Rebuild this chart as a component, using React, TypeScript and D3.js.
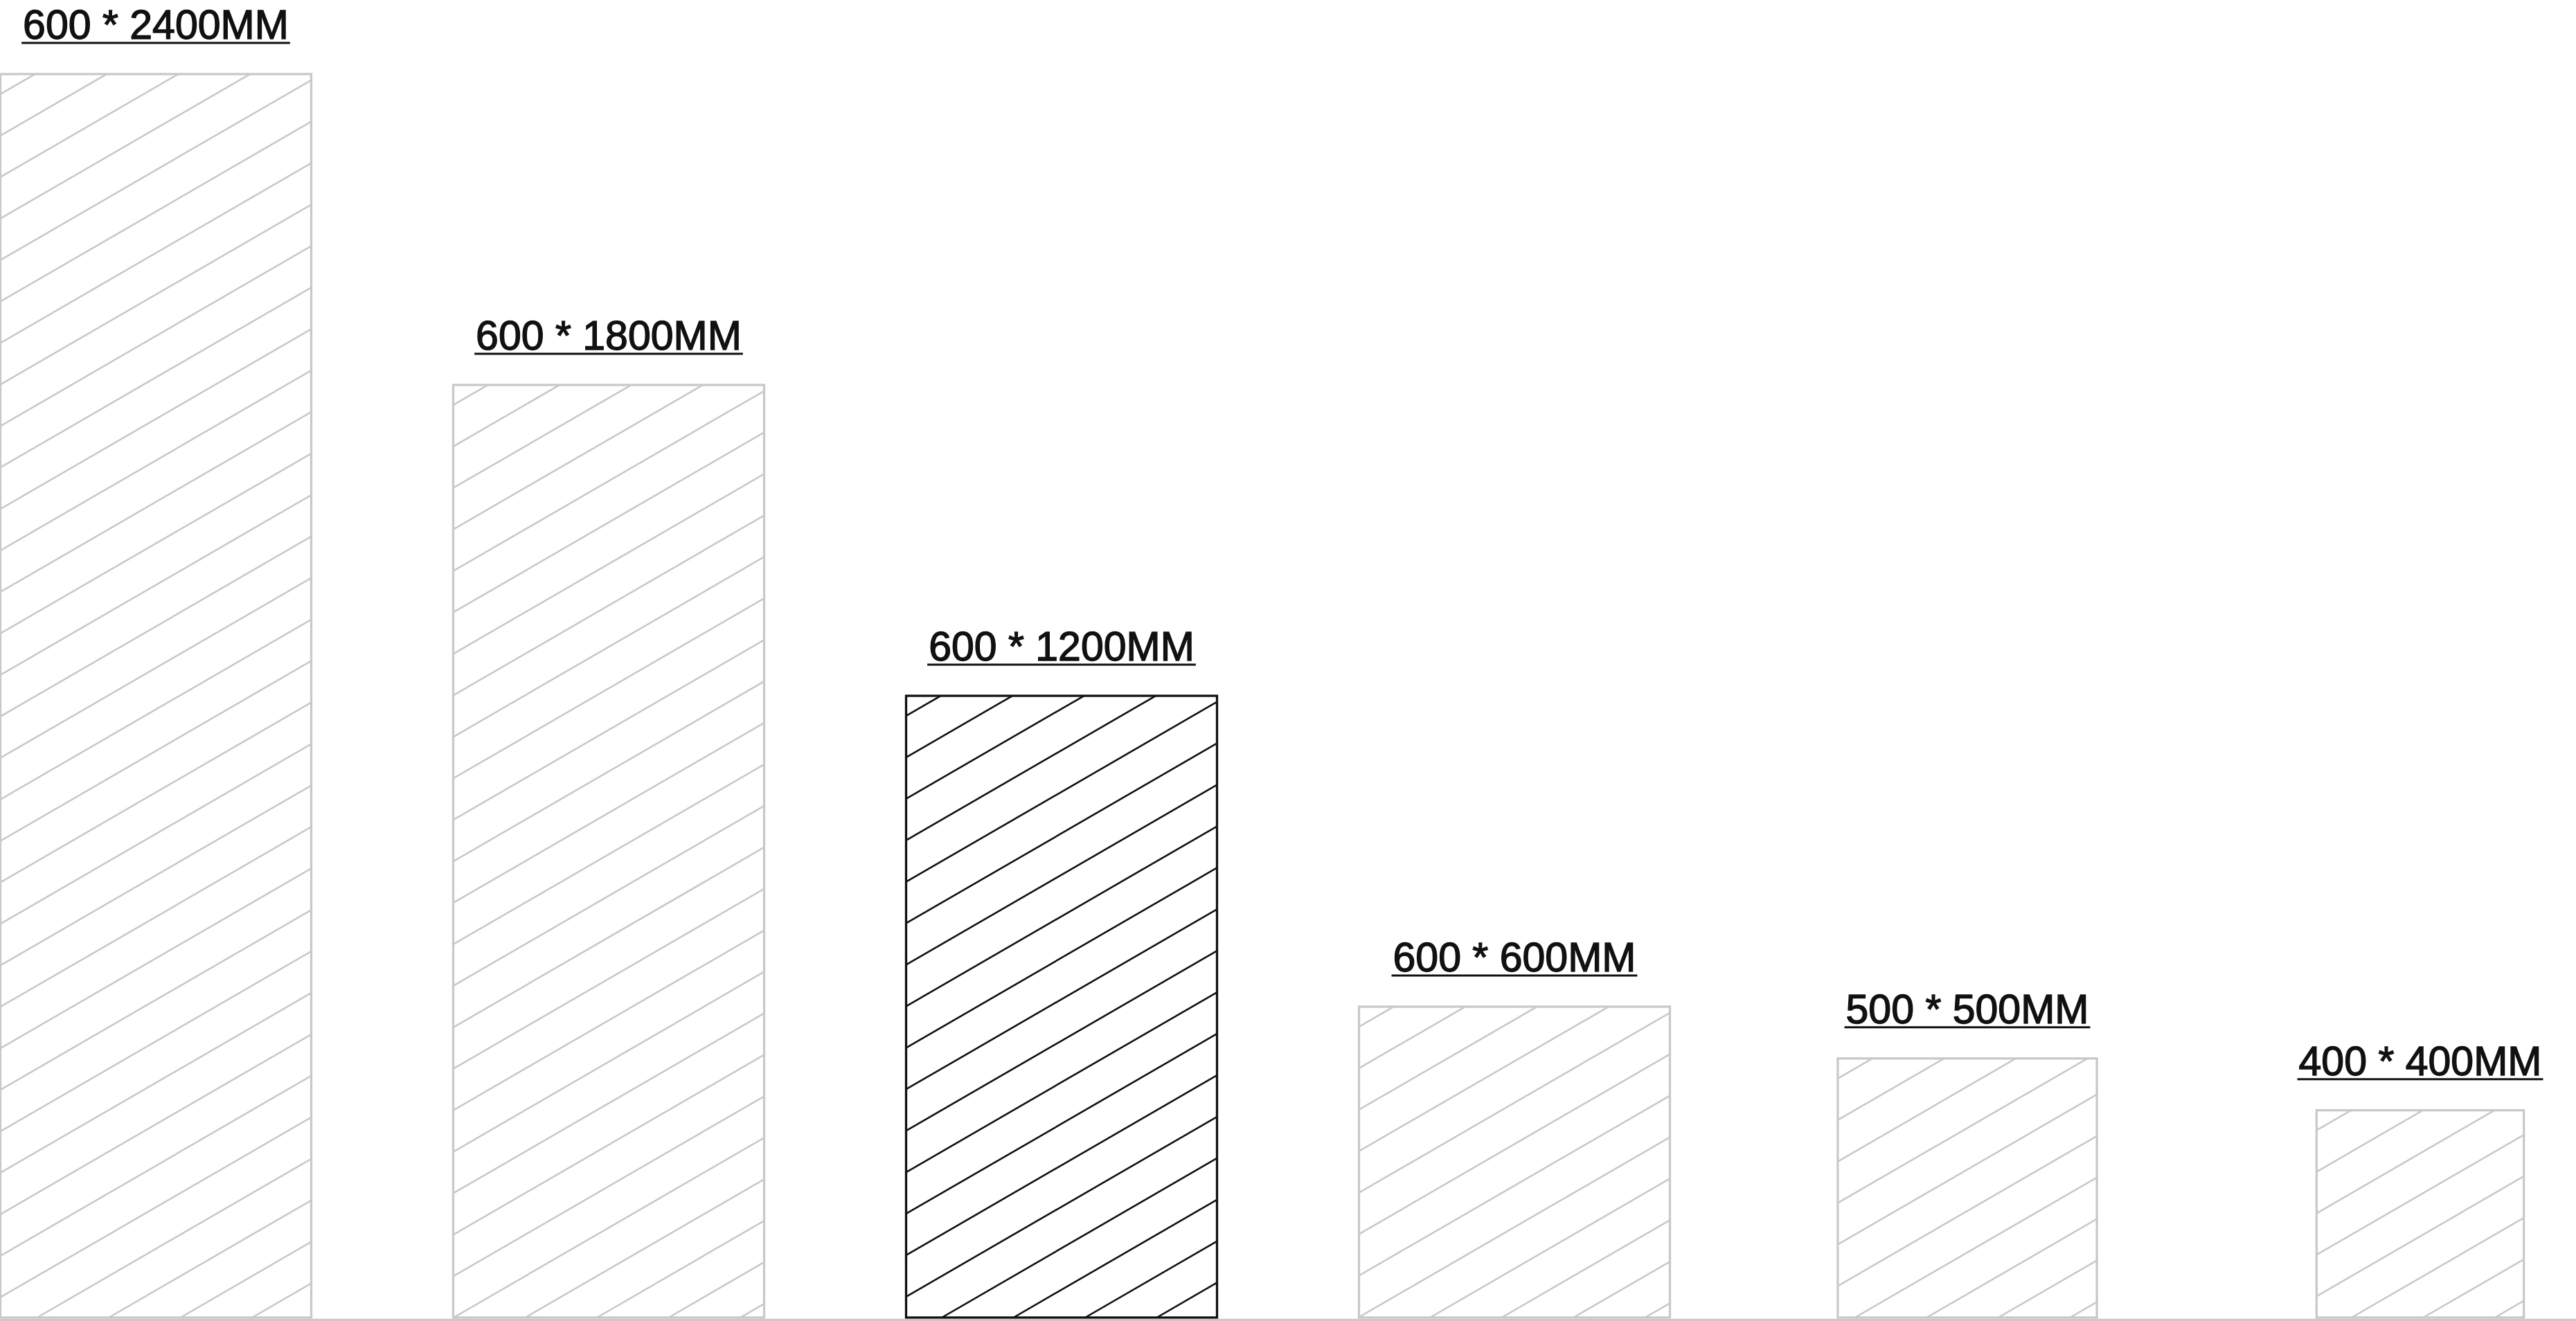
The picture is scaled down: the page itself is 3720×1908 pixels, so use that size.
import React, { useEffect, useRef } from 'react';
import * as d3 from 'd3';

// panel sizes, width x height in mm
const labels = ['600 * 2400MM', '600 * 1800MM', '600 * 1200MM', '600 * 600MM', '500 * 500MM', '400 * 400MM'];
const widthsMM = [600, 600, 600, 600, 500, 400];
const heightsMM = [2400, 1800, 1200, 600, 500, 400];
const highlighted = '600 * 1200MM';

export default function App() {
  const ref = useRef<SVGSVGElement>(null);

  useEffect(() => {
    const svg = d3.select(ref.current);
    svg.selectAll('*').remove();

    const width = 3720;
    const height = 1908;
    const margin = { top: 107, right: 0, bottom: 5, left: 0 };

    const data = labels.map((label, i) => ({ label, w: widthsMM[i], h: heightsMM[i] }));

    const x = d3.scaleBand()
      .domain(labels)
      .range([margin.left, width - margin.right])
      .paddingInner(0.312)
      .paddingOuter(0);

    const y = d3.scaleLinear()
      .domain([0, d3.max(heightsMM) as number])
      .range([height - margin.bottom, margin.top]);

    // same px-per-mm for width and height, so the panels are drawn to scale
    const mm = (v: number) => y(0) - y(v);

    const grey = '#c9c9c9';
    const dark = '#111111';
    const slope = 0.579; // ~30 degree hatching
    const hatchStep = 103.5; // horizontal distance between hatch lines
    const hatchOffset = 50;

    // baseline
    svg.append('line')
      .attr('x1', 0)
      .attr('x2', width)
      .attr('y1', y(0) + 3.5)
      .attr('y2', y(0) + 3.5)
      .attr('stroke', grey)
      .attr('stroke-width', 3.5);

    const defs = svg.append('defs');

    data.forEach((d, i) => {
      const cx = (x(d.label) as number) + x.bandwidth() / 2;
      const bw = mm(d.w);
      const bh = mm(d.h);
      const x0 = cx - bw / 2;
      const y0 = y(d.h);
      const color = d.label === highlighted ? dark : grey;

      const clipId = `clip-${i}`;
      defs.append('clipPath')
        .attr('id', clipId)
        .append('rect')
        .attr('x', x0)
        .attr('y', y0)
        .attr('width', bw)
        .attr('height', bh);

      const g = svg.append('g');

      g.append('rect')
        .attr('x', x0)
        .attr('y', y0)
        .attr('width', bw)
        .attr('height', bh)
        .attr('fill', '#fff');

      // diagonal hatching, anchored at each bar's top-left corner
      const run = bh / slope;
      const n = Math.ceil((bw + run - hatchOffset) / hatchStep) + 1;
      const hatch = d3.range(n).map(k => x0 + hatchOffset + k * hatchStep);

      g.append('g')
        .attr('clip-path', `url(#${clipId})`)
        .selectAll('line')
        .data(hatch)
        .enter()
        .append('line')
        .attr('x1', px => px)
        .attr('y1', y0)
        .attr('x2', px => px - run)
        .attr('y2', y0 + bh)
        .attr('stroke', color)
        .attr('stroke-width', 2.6);

      g.append('rect')
        .attr('x', x0)
        .attr('y', y0)
        .attr('width', bw)
        .attr('height', bh)
        .attr('fill', 'none')
        .attr('stroke', color)
        .attr('stroke-width', 3.3);

      // label with underline
      const text = g.append('text')
        .attr('x', cx)
        .attr('y', y0 - 51)
        .attr('text-anchor', 'middle')
        .attr('font-family', '"Liberation Sans", Arial, Helvetica, sans-serif')
        .attr('font-size', 59)
        .attr('fill', dark)
        .attr('stroke', dark)
        .attr('stroke-width', 1.4)
        .text(d.label);

      const len = (text.node() as SVGTextElement).getComputedTextLength();
      g.append('line')
        .attr('x1', cx - len / 2 - 2)
        .attr('x2', cx + len / 2 + 2)
        .attr('y1', y0 - 45)
        .attr('y2', y0 - 45)
        .attr('stroke', dark)
        .attr('stroke-width', 3);
    });
  }, []);

  return (
    <svg
      ref={ref}
      width={3720}
      height={1908}
      style={{ position: 'absolute', left: 0, top: 0, display: 'block', background: '#fff' }}
    />
  );
}
